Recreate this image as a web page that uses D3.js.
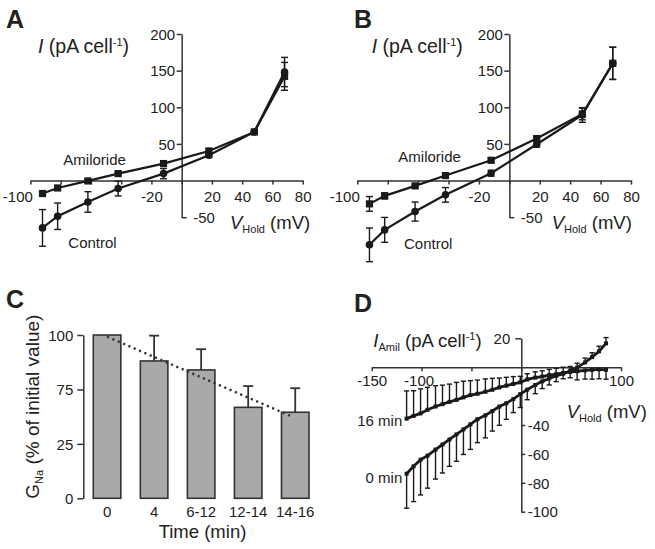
<!DOCTYPE html>
<html><head><meta charset="utf-8">
<script src="https://cdn.jsdelivr.net/npm/d3@7"></script>
<style>
body{margin:0;background:#fff}
svg{display:block}
text{font-family:"Liberation Sans",Arial,Helvetica,sans-serif;fill:#222}
</style>
</head><body>
<svg id="chart" width="655" height="549"></svg>
<script>
// ---------- DATA ----------
// Panels A & B : I-V relations (holding voltage, mV)
const ivVoltage = [-92, -82, -62, -42, -12, 18, 48, 68];
const aControl = [-64.6, -48.7, -29.2, -10.9, 9.5, 34.5, 66.3, 148.1];
const aControlErr = [25, 18, 14, 10, 7, 3, 2, 20];
const aAmiloride = [-17.7, -10.1, -0.5, 9.5, 23.2, 40.4, 66.3, 142.2];
const aAmilorideErr = [3, 3, 2, 2, 3, 3, 2, 19];
const bControl = [-87.7, -67.3, -42.3, -19.5, 10, 49.5, 89.5, 160];
const bControlErr = [23, 17, 13, 10, 4, 4, 10, 22];
const bAmiloride = [-31.8, -20.9, -7.3, 6.8, 27.7, 57.3, 90.9, 160];
const bAmilorideErr = [10, 4, 2, 2, 3, 3, 8, 22];
const ivXTicks = [-100, -80, -60, -40, -20, 0, 20, 40, 60, 80];
const ivXLabels = [-100, -20, 20, 40, 60, 80];
const ivYTicks = [200, 150, 100, 50];
const ivYLowTicks = [-50];

// Panel C : G_Na over time
const timeCategories = ["0", "4", "6-12", "12-14", "14-16"];
const gnaValues = [100, 84.1, 78.6, 55.7, 52.7];
const gnaErr = [0, 15.5, 12.7, 13, 14.7];
const gnaTrend = [99, 50];
const gnaTickValues = [0, 33.33, 66.67, 100];
const gnaTickLabels = ["0", "25", "75", "100"];

// Panel D : amiloride-sensitive current
const dVoltage = [-115, -108, -101, -94, -86, -79, -72, -65, -58, -51, -44, -36, -29, -22, -15, -8, -1, 6, 14, 21, 28, 35, 42, 49, 56, 64, 71, 78, 85];
const d0min = [-73.7, -68.6, -64, -61.2, -57, -53.5, -50, -46.5, -43, -39.5, -36, -33.3, -30.3, -27.2, -24.9, -22.1, -18.6, -15.5, -12.3, -9.8, -7.8, -6, -4.5, -2.5, -0.3, 3.3, 7, 11, 16.5];
const d0minErr = [-23.9, -24.4, -24.4, -22.5, -20.4, -19.7, -18.6, -18.6, -17.4, -17.4, -16.2, -15.6, -13.9, -13, -11.2, -9.3, -9.3, -7, -6, -5, -4.5, -4, -3.5, 3, 3, 3, 3, 3.5, 4];
const d16min = [-35.6, -33.7, -32, -29.5, -27.2, -25.6, -24, -22.6, -20.9, -19.3, -18.4, -17, -15.6, -14, -12.8, -11.6, -10.5, -8.5, -7.2, -6.5, -5.5, -4.8, -4, -3.3, -2.8, -2.2, -1.8, -1.5, -1.8];
const d16minErr = [19.2, 17.4, 17, 15.6, 14.4, 13.2, 12.3, 12.1, 11.2, 10, 9.5, 8.9, 7.9, 6.5, 5.8, 5.1, 4.2, 4, 4, 4, 4, 4, 4, -4, -6, -6, -6.5, -6.5, -6.5];
const dXTicks = [-150, -100, -50, 0, 50, 100];
const dXLabels = [-150, -100, 100];
const dYTicksLeft = [20];
const dYTicksRight = [-40, -60, -80, -100];

// ---------- DRAW ----------
const svg = d3.select("#chart");
svg.append("rect").attr("width", 655).attr("height", 549).attr("fill", "#fff");
const INK = "#1a1a1a";
const AX = "#333";
const TICKFS = 15;
const plain = d => String(d);

function styleAxis(sel) {
  sel.selectAll("path.domain").attr("stroke", AX).attr("stroke-width", 1.5);
  sel.selectAll(".tick line").attr("stroke", AX).attr("stroke-width", 1.5);
  sel.selectAll(".tick text").attr("font-size", TICKFS).attr("fill", "#222")
    .attr("font-family", '"Liberation Sans",Arial,sans-serif');
}

function panelLetter(t, x, y) {
  svg.append("text").attr("x", x).attr("y", y).attr("font-size", 25)
    .attr("font-weight", "bold").attr("fill", "#111").text(t);
}

function axisTitle(x, y, main, sub, rest, opts = {}) {
  const t = svg.append("text").attr("x", x).attr("y", y).attr("font-size", opts.fs || 18.5);
  t.append("tspan").attr("font-style", opts.italic === false ? "normal" : "italic").text(main);
  if (sub) t.append("tspan").attr("font-size", 11).attr("dy", 4).text(sub);
  t.append("tspan").attr("dy", sub ? -4 : 0).text(rest);
  if (opts.sup) {
    t.append("tspan").attr("font-size", 11).attr("dy", -7).text(opts.sup);
    t.append("tspan").attr("dy", 7).text(")");
  }
  return t;
}

function drawIV(cfg) {
  const x = d3.scaleLinear().domain([-100, 80]).range(cfg.xRange);
  const y = d3.scaleLinear().domain([-50, 200]).range([217.2, 34.0]);
  const g = svg.append("g");

  const xa = g.append("g").attr("transform", `translate(0,${y(0)})`)
    .call(d3.axisBottom(x).tickValues(ivXTicks).tickSize(4).tickSizeOuter(0)
      .tickFormat(d => ivXLabels.includes(d) ? String(d) : ""));
  styleAxis(xa);
  xa.selectAll(".tick text").attr("y", 21.2).attr("dy", 0);
  xa.selectAll(".tick text").filter(d => d === -100).attr("text-anchor", "end").attr("x", 2);

  const ya = g.append("g").attr("transform", `translate(${x(0)},0)`)
    .call(d3.axisLeft(y).tickValues(ivYTicks).tickFormat(plain).tickSize(5).tickPadding(1.5).tickSizeOuter(0));
  styleAxis(ya);
  ya.selectAll(".tick text").attr("dy", "0.35em");
  const yb = g.append("g").attr("transform", `translate(${x(0)},0)`)
    .call(d3.axisRight(y).tickValues(ivYLowTicks).tickFormat(plain).tickSize(5).tickPadding(6.5));
  yb.select("path.domain").remove();
  styleAxis(yb);
  yb.selectAll(".tick text").attr("dy", "0.35em");

  const line = d3.line().x((d, i) => x(ivVoltage[i])).y(d => y(d));
  const series = [
    { v: cfg.amil, e: cfg.amilErr, shape: "square" },
    { v: cfg.ctrl, e: cfg.ctrlErr, shape: "circle" }
  ];
  series.forEach(s => {
    const eb = g.append("g");
    s.v.forEach((v, i) => {
      const cx = x(ivVoltage[i]), y1 = y(v - s.e[i]), y2 = y(v + s.e[i]);
      eb.append("line").attr("x1", cx).attr("x2", cx).attr("y1", y1).attr("y2", y2)
        .attr("stroke", INK).attr("stroke-width", 1.4);
      [y1, y2].forEach(yy => eb.append("line").attr("x1", cx - 3.5).attr("x2", cx + 3.5)
        .attr("y1", yy).attr("y2", yy).attr("stroke", INK).attr("stroke-width", 1.4));
    });
  });
  series.forEach(s => {
    g.append("path").datum(s.v).attr("d", line).attr("fill", "none")
      .attr("stroke", INK).attr("stroke-width", 2.2);
  });
  series.forEach(s => {
    s.v.forEach((v, i) => {
      if (s.shape === "square") {
        g.append("rect").attr("x", x(ivVoltage[i]) - 3.6).attr("y", y(v) - 3.6)
          .attr("width", 7.2).attr("height", 7.2).attr("fill", INK);
      } else {
        g.append("circle").attr("cx", x(ivVoltage[i])).attr("cy", y(v)).attr("r", 3.8).attr("fill", INK);
      }
    });
  });

  axisTitle(cfg.iTitleX, 53.3, "I", null, " (pA cell", { sup: "-1", fs: 19.5 });
  axisTitle(cfg.vTitleX, 229.3, "V", "Hold", " (mV)");
  svg.append("text").attr("x", cfg.amilX).attr("y", cfg.amilY).attr("font-size", 15).text("Amiloride");
  svg.append("text").attr("x", cfg.ctrlX).attr("y", cfg.ctrlY).attr("font-size", 15).text("Control");
}

drawIV({ xRange: [30.4, 302.7], amil: aAmiloride, amilErr: aAmilorideErr, ctrl: aControl, ctrlErr: aControlErr,
  iTitleX: 38, vTitleX: 230, amilX: 63.3, amilY: 164.5, ctrlX: 68.3, ctrlY: 247.5 });
drawIV({ xRange: [357.3, 631], amil: bAmiloride, amilErr: bAmilorideErr, ctrl: bControl, ctrlErr: bControlErr,
  iTitleX: 371.7, vTitleX: 551.7, amilX: 398.3, amilY: 162, ctrlX: 404, ctrlY: 248.5 });
panelLetter("A", 6, 28);
panelLetter("B", 354, 28);

// ---------- Panel C ----------
(function () {
  const x = d3.scaleBand().domain(timeCategories).range([83.9, 318.4]).paddingInner(0.415).paddingOuter(0.2);
  const y = d3.scaleLinear().domain([0, 100]).range([498.3, 335]);
  const g = svg.append("g");
  const ya = g.append("g").attr("transform", "translate(83.3,0)")
    .call(d3.axisLeft(y).tickValues(gnaTickValues).tickFormat((d, i) => gnaTickLabels[i])
      .tickSize(6).tickPadding(4).tickSizeOuter(0));
  styleAxis(ya);
  ya.selectAll(".tick text").attr("dy", "0.35em");

  g.selectAll("rect.bar").data(gnaValues).enter().append("rect")
    .attr("x", (d, i) => x(timeCategories[i])).attr("width", x.bandwidth())
    .attr("y", d => y(d)).attr("height", d => y(0) - y(d))
    .attr("fill", "#a9a9a9").attr("stroke", "#333").attr("stroke-width", 1.6);

  gnaValues.forEach((v, i) => {
    if (!gnaErr[i]) return;
    const cx = x(timeCategories[i]) + x.bandwidth() / 2;
    g.append("line").attr("x1", cx).attr("x2", cx).attr("y1", y(v)).attr("y2", y(v + gnaErr[i]))
      .attr("stroke", "#333").attr("stroke-width", 1.8);
    g.append("line").attr("x1", cx - 5).attr("x2", cx + 5).attr("y1", y(v + gnaErr[i])).attr("y2", y(v + gnaErr[i]))
      .attr("stroke", "#333").attr("stroke-width", 1.8);
  });

  const c0 = x(timeCategories[0]) + x.bandwidth() / 2;
  const c1 = x(timeCategories[timeCategories.length - 1]) + x.bandwidth() / 2 - 3;
  g.append("line").attr("x1", c0).attr("y1", y(gnaTrend[0])).attr("x2", c1).attr("y2", y(gnaTrend[1]))
    .attr("stroke", "#333").attr("stroke-width", 2.4).attr("stroke-dasharray", "2.2,3.6");

  timeCategories.forEach(c => {
    g.append("text").attr("x", x(c) + x.bandwidth() / 2).attr("y", 517).attr("text-anchor", "middle")
      .attr("font-size", TICKFS).text(c);
  });
  svg.append("text").attr("x", 202.5).attr("y", 538).attr("text-anchor", "middle").attr("font-size", 18.5).text("Time (min)");
  const t = svg.append("text").attr("transform", "translate(38.5,406.7) rotate(-90)").attr("text-anchor", "middle").attr("font-size", 19);
  t.append("tspan").text("G");
  t.append("tspan").attr("font-size", 11).attr("dy", 4).text("Na");
  t.append("tspan").attr("dy", -4).text(" (% of initial value)");
  panelLetter("C", 6, 308);
})();

// ---------- Panel D ----------
(function () {
  const x = d3.scaleLinear().domain([-150, 100]).range([371.7, 621]);
  const y = d3.scaleLinear().domain([-100, 20]).range([511.7, 338.3]);
  const g = svg.append("g");
  const xa = g.append("g").attr("transform", `translate(0,${y(0)})`)
    .call(d3.axisBottom(x).tickValues(dXTicks).tickSize(4).tickSizeOuter(0)
      .tickFormat(d => dXLabels.includes(d) ? String(d) : ""));
  styleAxis(xa);
  xa.selectAll(".tick text").attr("y", 19).attr("dy", 0);
  xa.selectAll(".tick text").filter(d => d === -100).attr("x", -3);

  const ya = g.append("g").attr("transform", `translate(${x(0)},0)`)
    .call(d3.axisLeft(y).tickValues(dYTicksLeft).tickFormat(plain).tickSize(6).tickPadding(5).tickSizeOuter(0));
  styleAxis(ya);
  ya.selectAll(".tick text").attr("dy", "0.35em");
  const yb = g.append("g").attr("transform", `translate(${x(0)},0)`)
    .call(d3.axisRight(y).tickValues(dYTicksRight).tickFormat(plain).tickSize(4).tickPadding(2.5));
  yb.select("path.domain").remove();
  styleAxis(yb);
  yb.selectAll(".tick text").attr("dy", "0.35em");

  const line = d3.line().x((d, i) => x(dVoltage[i])).y(d => y(d));
  [{ v: d16min, e: d16minErr }, { v: d0min, e: d0minErr }].forEach(s => {
    s.v.forEach((v, i) => {
      const cx = x(dVoltage[i]), y1 = y(v), y2 = y(v + s.e[i]);
      g.append("line").attr("x1", cx).attr("x2", cx).attr("y1", y1).attr("y2", y2)
        .attr("stroke", INK).attr("stroke-width", 1.4);
      g.append("line").attr("x1", cx - 2.6).attr("x2", cx + 2.6).attr("y1", y2).attr("y2", y2)
        .attr("stroke", INK).attr("stroke-width", 1.4);
    });
    g.append("path").datum(s.v).attr("d", line).attr("fill", "none")
      .attr("stroke", INK).attr("stroke-width", 2.8).attr("stroke-linejoin", "round");
    s.v.forEach((v, i) => {
      g.append("rect").attr("x", x(dVoltage[i]) - 2).attr("y", y(v) - 2)
        .attr("width", 4).attr("height", 4).attr("fill", INK);
    });
  });

  axisTitle(373.3, 346.7, "I", "Amil", " (pA cell", { sup: "-1" });
  axisTitle(566.7, 418.3, "V", "Hold", " (mV)");
  svg.append("text").attr("x", 402.3).attr("y", 425.7).attr("text-anchor", "end").attr("font-size", 15).text("16 min");
  svg.append("text").attr("x", 402.3).attr("y", 482.7).attr("text-anchor", "end").attr("font-size", 15).text("0 min");
  panelLetter("D", 354, 312);
})();
</script>
</body></html>
